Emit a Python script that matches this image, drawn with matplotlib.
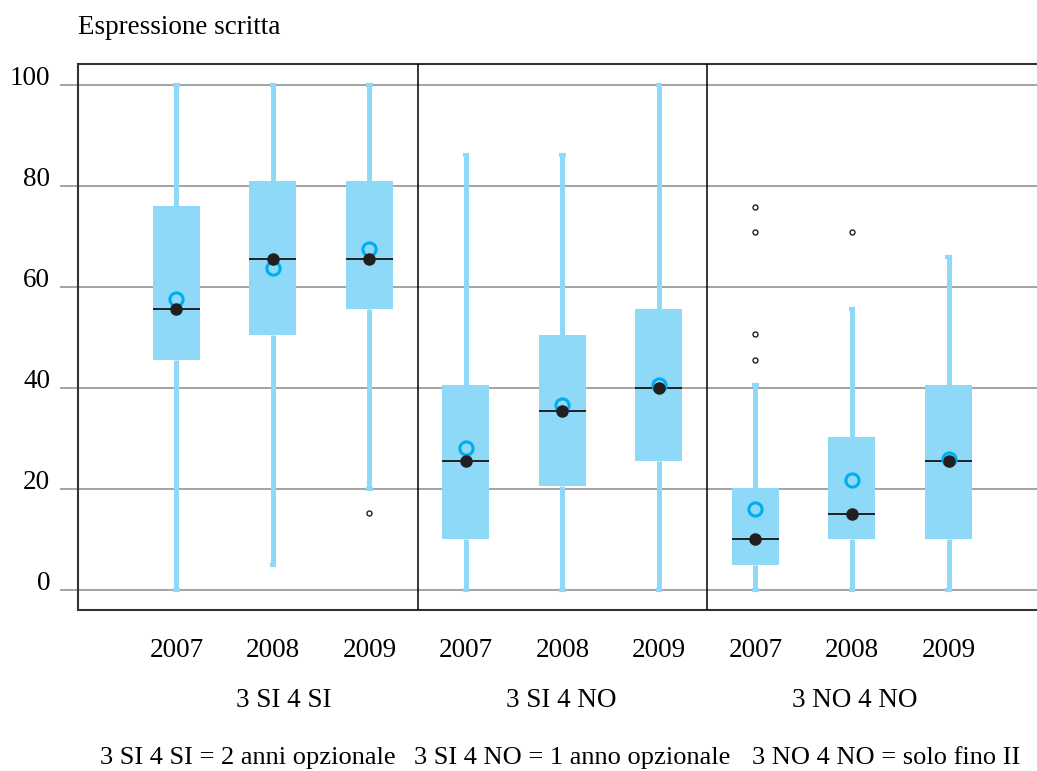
import matplotlib
matplotlib.use("Agg")
import matplotlib.pyplot as plt
from matplotlib.transforms import ScaledTranslation

plt.rcParams['font.family'] = ['Liberation Serif', 'DejaVu Serif']

# ---- data ----
years = ["2007", "2008", "2009"] * 3
groups = ["3 SI 4 SI", "3 SI 4 NO", "3 NO 4 NO"]
footnotes = ["3 SI 4 SI = 2 anni opzionale", "3 SI 4 NO = 1 anno opzionale",
             "3 NO 4 NO = solo fino II"]
whisker_low = [0, 5, 20, 0, 0, 0, 0, 0, 0]
q1 = [45.5, 50.5, 55.5, 10, 20.5, 25.5, 5, 10, 10]
medians = [55.5, 65.5, 65.5, 25.5, 35.5, 40, 10, 15, 25.5]
q3 = [76, 81, 81, 40.5, 50.5, 55.5, 20.2, 30.2, 40.5]
whisker_high = [100, 100, 100, 86, 86, 100, 40.6, 55.6, 65.8]
means = [57.6, 63.7, 67.5, 28.1, 36.5, 40.6, 16.0, 21.8, 26.0]
outliers = [[], [], [15.2], [], [], [], [45.5, 50.6, 70.8, 75.8], [70.8], []]
yticks = [0, 20, 40, 60, 80, 100]

BOX = "#8ED8F8"
RING = "#00AEEF"
DARK = "#231F20"
FS = 19.5

fig = plt.figure(figsize=(10.37, 7.71), dpi=100)
ax = fig.add_axes([78 / 1037, 1 - 610 / 771, (1037 - 78) / 1037, (610 - 64) / 771])

positions = list(range(len(years)))
stats = []
for i in positions:
    stats.append(dict(med=medians[i], q1=q1[i], q3=q3[i],
                      whislo=whisker_low[i], whishi=whisker_high[i],
                      fliers=outliers[i], label=years[i]))

ax.bxp(stats, positions=positions, widths=0.487, patch_artist=True,
       boxprops=dict(facecolor=BOX, edgecolor="none", linewidth=0),
       whiskerprops=dict(color=BOX, linewidth=3.6, solid_capstyle="butt"),
       capprops=dict(color=BOX, linewidth=3.0, solid_capstyle="butt"),
       capwidths=0.07,
       medianprops=dict(color=DARK, linewidth=1.4),
       flierprops=dict(marker="o", markersize=3.6, markerfacecolor="white",
                       markeredgecolor=DARK, markeredgewidth=1.0, linestyle="none"),
       zorder=3)

ax.plot(positions, means, linestyle="none", marker="o", markersize=9.5,
        markerfacecolor="none", markeredgecolor=RING, markeredgewidth=2.2, zorder=5)
ax.plot(positions, medians, linestyle="none", marker="o", markersize=8,
        markerfacecolor=DARK, markeredgecolor=DARK, zorder=6)

ax.set_xlim(-1.02, 8.917)
ax.set_ylim(-3.96, 104.06)

# grid
ax.set_yticks(yticks)
ax.set_yticklabels([str(t) for t in yticks], fontsize=FS)
ax.yaxis.grid(True, color="#8a8a8a", linewidth=1.1, zorder=1)
ax.set_axisbelow(True)
ax.tick_params(axis="y", length=13, width=1.1, color="#8a8a8a", pad=7)
off = ScaledTranslation(0, 9.5 / 100, fig.dpi_scale_trans)
for lab in ax.get_yticklabels():
    lab.set_transform(lab.get_transform() + off)

ax.set_xticks(positions)
ax.set_xticklabels(years, fontsize=FS)
ax.tick_params(axis="x", length=0, pad=20)

for s in ["left", "bottom", "top"]:
    ax.spines[s].set_color("#333333")
    ax.spines[s].set_linewidth(1.5)
ax.spines["right"].set_visible(False)

for xs in [2.5, 5.5]:
    ax.axvline(xs, color="black", linewidth=1.1, zorder=4)

# group labels
group_x = [1.11, 3.99, 7.03]
for gx, g in zip(group_x, groups):
    ax.text(gx, -0.165, g, transform=ax.get_xaxis_transform(), ha="center",
            va="center", fontsize=FS)

# footnotes
foot_x = [248, 572, 886]
for fx, t in zip(foot_x, footnotes):
    fig.text(fx / 1037, 1 - 758 / 771, t, ha="center", va="center", fontsize=19)

fig.text(78 / 1037, 1 - 28 / 771, "Espressione scritta", ha="left", va="center",
         fontsize=FS)

fig.savefig("out.png", dpi=100)
